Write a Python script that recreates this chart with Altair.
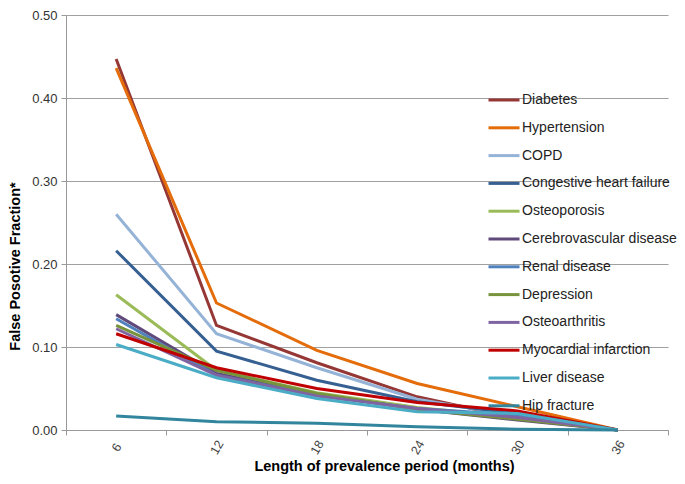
import altair as alt
import pandas as pd

months = ["6", "12", "18", "24", "30", "36"]

diabetes = [0.447, 0.126, 0.081, 0.040, 0.014, 0.0]
hypertension = [0.436, 0.153, 0.096, 0.056, 0.028, 0.0]
copd = [0.260, 0.116, 0.075, 0.037, 0.017, 0.0]
chf = [0.216, 0.095, 0.060, 0.034, 0.020, 0.0]
osteoporosis = [0.163, 0.072, 0.045, 0.027, 0.015, 0.0]
cerebro = [0.139, 0.068, 0.043, 0.025, 0.012, 0.0]
renal = [0.134, 0.066, 0.042, 0.026, 0.018, 0.0]
depression = [0.126, 0.072, 0.044, 0.025, 0.013, 0.0]
osteoarthritis = [0.122, 0.066, 0.041, 0.026, 0.015, 0.0]
mi = [0.116, 0.075, 0.050, 0.033, 0.023, 0.0]
liver = [0.103, 0.063, 0.038, 0.022, 0.020, 0.0]
hip = [0.017, 0.010, 0.008, 0.004, 0.001, 0.0]

series_names = [
    "Diabetes", "Hypertension", "COPD", "Congestive heart failure",
    "Osteoporosis", "Cerebrovascular disease", "Renal disease", "Depression",
    "Osteoarthritis", "Myocardial infarction", "Liver disease", "Hip fracture",
]
series_values = [diabetes, hypertension, copd, chf, osteoporosis, cerebro,
                 renal, depression, osteoarthritis, mi, liver, hip]
series_colors = ["#953735", "#E46C0A", "#95B3D7", "#376092", "#9BBB59",
                 "#604A7B", "#4F81BD", "#77933C", "#8064A2", "#C00000",
                 "#4BACC6", "#31859C"]

rows = []
for name, vals in zip(series_names, series_values):
    for m, v in zip(months, vals):
        rows.append({"Months": m, "Value": v, "Series": name})
df = pd.DataFrame(rows)

font = "Liberation Sans"

chart = alt.Chart(df).mark_line(strokeWidth=3).encode(
    x=alt.X("Months:O", sort=months, bandPosition=0.5,
            scale=alt.Scale(type="band", paddingInner=0, paddingOuter=0),
            axis=alt.Axis(title="Length of prevalence period (months)",
                          tickBand="extent", labelAngle=-60,
                          labelFont=font, labelFontSize=12.5, labelColor="#444",
                          labelAlign="center", labelBaseline="middle", labelPadding=12,
                          domainColor="#999", tickColor="#999", tickSize=5,
                          titleFont=font, titleFontSize=14.5, titleFontWeight="bold",
                          titleColor="#000", titleBaseline="middle", titleAlign="center",
                          titleX=318, titleY=36,
                          grid=False)),
    y=alt.Y("Value:Q",
            scale=alt.Scale(domain=[0, 0.5], nice=False),
            axis=alt.Axis(title="False Posotive Fraction*", format=".2f",
                          values=[0, 0.1, 0.2, 0.3, 0.4, 0.5],
                          labelFont=font, labelFontSize=13, labelColor="#333",
                          labelPadding=4,
                          domainColor="#999", tickColor="#999", tickSize=5,
                          gridColor="#a0a0a0", gridWidth=1.2,
                          titleFont=font, titleFontSize=14.5, titleFontWeight="bold",
                          titleColor="#000", titleBaseline="middle", titleAlign="center",
                          titleX=-51, titleY=251)),
    color=alt.Color("Series:N",
                    scale=alt.Scale(domain=series_names, range=series_colors),
                    legend=alt.Legend(title=None, orient="none",
                                      legendX=421, legendY=68,
                                      symbolType="stroke", symbolSize=961,
                                      symbolStrokeWidth=3, rowPadding=3.8,
                                      labelFont=font, labelFontSize=14,
                                      labelColor="#222", labelOffset=1)),
    order=alt.Order("Series:N"),
).properties(
    width=602, height=415,
    padding={"left": 58, "top": 7, "right": 9, "bottom": 44},
    autosize=alt.AutoSizeParams(type="none"),
).configure_view(stroke=None).configure_axisY(domainWidth=1)

chart.save("out.html", embed_options={"renderer": "svg", "actions": False})
